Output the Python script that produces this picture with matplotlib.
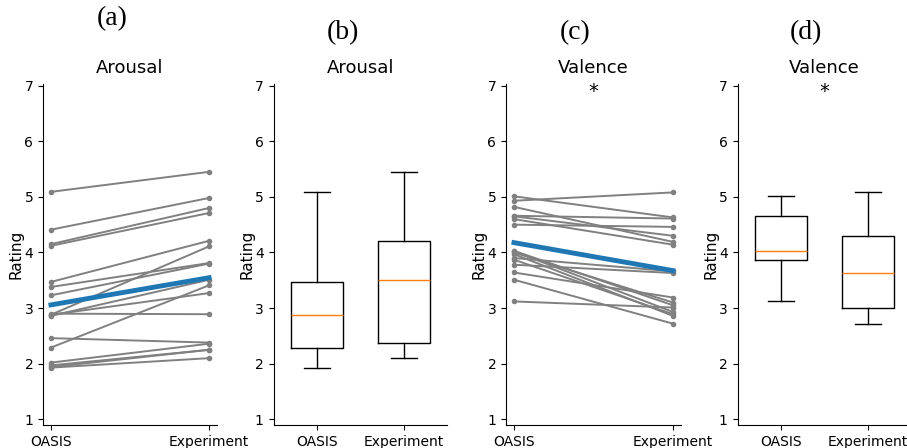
import numpy as np
import matplotlib.pyplot as plt

conditions = ["OASIS", "Experiment"]

# arousal ratings per image, OASIS vs experiment (paired)
arousal_oasis = [5.09, 4.41, 4.15, 4.12, 3.47, 3.38, 3.23, 2.88, 2.86, 2.88, 2.90,
                 2.29, 2.46, 2.02, 1.97, 1.94, 1.93]
arousal_exp = [5.45, 4.98, 4.80, 4.71, 4.21, 3.81, 3.80, 4.11, 3.51, 3.27, 2.89,
               3.41, 2.38, 2.36, 2.25, 2.25, 2.10]

# valence ratings per image, OASIS vs experiment (paired)
valence_oasis = [5.01, 4.93, 4.82, 4.66, 4.65, 4.60, 4.50, 4.03, 4.02, 4.00, 3.97,
                 3.90, 3.87, 3.78, 3.64, 3.51, 3.12]
valence_exp = [4.63, 5.08, 4.19, 4.61, 4.30, 4.14, 4.46, 3.05, 2.93, 3.10, 2.86,
               3.66, 2.89, 3.63, 3.19, 2.72, 3.01]

W, H = 907, 448
fig = plt.figure(figsize=(W / 100, H / 100), dpi=100)

bottom = (H - 424.9) / H
height = 340.4 / H


def make_ax(left_px, width_px):
    ax = fig.add_axes([left_px / W, bottom, width_px / W, height])
    ax.spines["top"].set_visible(False)
    ax.spines["right"].set_visible(False)
    ax.set_ylim(0.9, 7.02)
    ax.set_yticks([1, 2, 3, 4, 5, 6, 7])
    ax.tick_params(labelsize=10)
    ax.set_ylabel("Rating", fontsize=11, labelpad=0.5)
    return ax


def add_star(ax):
    ax.text(0.5, 1.008, "*", transform=ax.transAxes, ha="center", va="top",
            fontsize=14)


def paired(ax, a, b, title, star=False):
    for y0, y1 in zip(a, b):
        ax.plot([0, 1], [y0, y1], color="gray", lw=1.4, marker="o", ms=3)
    ax.plot([0, 1], [np.mean(a), np.mean(b)], color="tab:blue", lw=3.5)
    ax.set_xlim(-0.05, 1.05)
    ax.set_xticks([0, 1])
    ax.set_xticklabels(conditions)
    ax.set_title(title, fontsize=13, pad=8)
    if star:
        add_star(ax)


def boxes(ax, a, b, title, star=False):
    ax.boxplot([a, b], widths=0.6, capwidths=0.3,
               medianprops=dict(color="tab:orange", lw=1),
               boxprops=dict(lw=1), whiskerprops=dict(lw=1), capprops=dict(lw=1))
    ax.set_xlim(0.5, 2.5)
    ax.set_xticks([1, 2])
    ax.set_xticklabels(conditions)
    ax.set_title(title, fontsize=13, pad=8)
    if star:
        add_star(ax)


ax_a = make_ax(43, 174)
paired(ax_a, arousal_oasis, arousal_exp, "Arousal")

ax_b = make_ax(273.5, 174)
boxes(ax_b, arousal_oasis, arousal_exp, "Arousal")

ax_c = make_ax(506, 175)
paired(ax_c, valence_oasis, valence_exp, "Valence", star=True)

ax_d = make_ax(737.5, 174)
boxes(ax_d, valence_oasis, valence_exp, "Valence", star=True)

# subfigure labels
serif = dict(family="Liberation Serif", fontsize=20, ha="center", va="center")
fig.text(112 / W, 1 - 19 / H, "(a)", **serif)
fig.text(343 / W, 1 - 33 / H, "(b)", **serif)
fig.text(575 / W, 1 - 33 / H, "(c)", **serif)
fig.text(806 / W, 1 - 33 / H, "(d)", **serif)

fig.savefig("out.png", dpi=100)
